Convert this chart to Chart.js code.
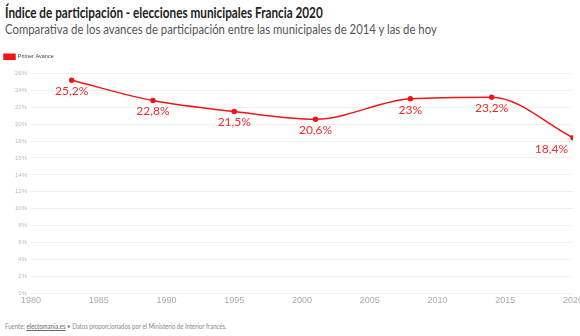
<!DOCTYPE html>
<html>
<head>
<meta charset="utf-8">
<script src="https://cdn.jsdelivr.net/npm/chart.js@4"></script>
<style>
  html, body { margin: 0; padding: 0; background: #fff; overflow: hidden; width: 580px; height: 336px; }
  body { font-family: Lato, "Open Sans", sans-serif; position: relative; }
  .sq { transform-origin: 0 0; white-space: nowrap; position: absolute; left: 5px; }
  #title { top: 4px; font-size: 14.5px; font-weight: bold; color: #222; transform: scaleX(0.81); }
  #sub { top: 21px; font-size: 13.5px; color: #555; transform: scaleX(0.84); }
  #wrap { position: absolute; left: 0; top: 50px; width: 585px; height: 258px; }
  #foot { top: 322px; font-size: 7px; color: #888; transform: scaleX(0.86); }
  #foot u { color: #666; }
</style>
</head>
<body>
<div id="title" class="sq">Índice de participación - elecciones municipales Francia 2020</div>
<div id="sub" class="sq">Comparativa de los avances de participación entre las municipales de 2014 y las de hoy</div>
<div id="wrap"><canvas id="myChart"></canvas></div>
<div id="foot" class="sq">Fuente: <u>electomania.es</u> • Datos proporcionados por el Ministerio de Interior francés.</div>
<script>
const years = [1983, 1989, 1995, 2001, 2008, 2014, 2020];
const primerAvance = [25.2, 22.8, 21.5, 20.6, 23, 23.2, 18.4];
const xTicks = [1980, 1985, 1990, 1995, 2000, 2005, 2010, 2015, 2020];
const yTicks = [0, 2, 4, 6, 8, 10, 12, 14, 16, 18, 20, 22, 24, 26];

// espacio extra bajo la leyenda
const legendGap = {
  id: 'legendGap',
  beforeInit(chart) {
    const fit = chart.legend.fit;
    chart.legend.fit = function () {
      fit.bind(chart.legend)();
      this.height += 4;
    };
  }
};

// etiquetas debajo de cada punto
const labelPlugin = {
  id: 'pointLabels',
  afterDatasetsDraw(chart) {
    const ctx = chart.ctx;
    const meta = chart.getDatasetMeta(0);
    ctx.save();
    ctx.font = '12px Lato, "Open Sans", sans-serif';
    ctx.fillStyle = '#f02a2a';
    ctx.textAlign = 'center';
    ctx.textBaseline = 'middle';
    meta.data.forEach((pt, i) => {
      const txt = String(primerAvance[i]).replace('.', ',') + '%';
      const w = ctx.measureText(txt).width;
      const x = Math.min(pt.x, 568 - w / 2);
      ctx.fillText(txt, x, pt.y + 11);
    });
    ctx.restore();
  }
};

const ctx = document.querySelector('#myChart');

new Chart(ctx, {
  type: 'line',
  data: {
    datasets: [{
      label: 'Primer Avance',
      data: years.map((y, i) => ({ x: y, y: primerAvance[i] })),
      borderColor: '#f21414',
      backgroundColor: '#f21414',
      borderWidth: 1.5,
      pointRadius: 2,
      cubicInterpolationMode: 'monotone',
    }]
  },
  options: {
    responsive: true,
    maintainAspectRatio: false,
    animation: false,
    plugins: {
      legend: {
        align: 'start',
        labels: {
          boxWidth: 11,
          boxHeight: 5,
          color: '#444',
          font: { size: 5.5 },
          padding: 4
        }
      },
      tooltip: { enabled: false }
    },
    scales: {
      x: {
        type: 'linear',
        min: 1980,
        max: 2020,
        afterBuildTicks: (scale) => { scale.ticks = xTicks.map(v => ({ value: v })); },
        grid: { display: false, drawTicks: false },
        border: { display: false },
        ticks: {
          color: '#aaa',
          font: { size: 9 },
          padding: 2,
          maxRotation: 0,
          callback: (v) => String(v)
        }
      },
      y: {
        min: 0,
        max: 26,
        afterBuildTicks: (scale) => { scale.ticks = yTicks.map(v => ({ value: v })); },
        afterFit: (scale) => { scale.width = 31; },
        grid: { color: '#efefef', drawTicks: false },
        border: { display: false },
        ticks: {
          color: '#bbb',
          font: { size: 6 },
          padding: 4,
          callback: (v) => v + '%'
        }
      }
    }
  },
  plugins: [labelPlugin, legendGap]
});
</script>
</body>
</html>
